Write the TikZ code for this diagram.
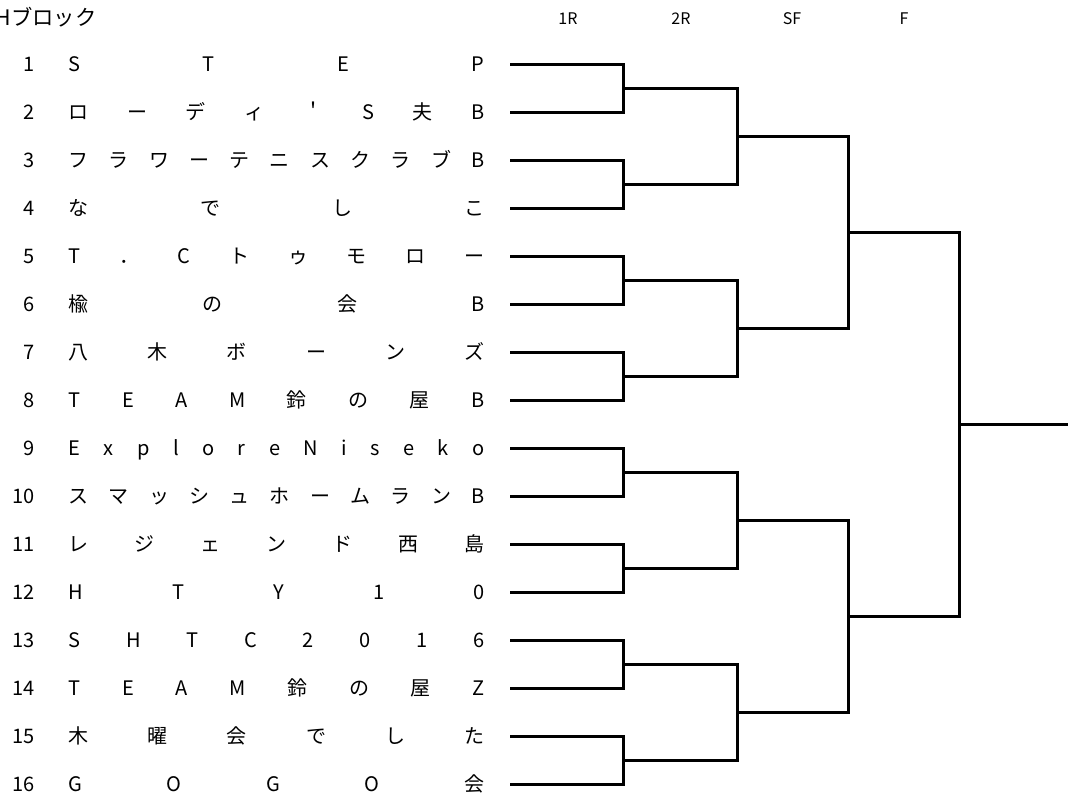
\documentclass[tikz,border=0pt]{standalone}
\usepackage{fontspec}
\setmainfont{Noto Sans CJK JP}
\usetikzlibrary{positioning}

% spread the letters of a team name over the whole column
\newcommand\spreadname[1]{\spreadnext#1\relax}
\def\spreadnext#1#2\relax{#1\if\relax\detokenize{#2}\relax\else\hfill\spreadnext#2\relax\fi}

\begin{document}
\begin{tikzpicture}[x=0.75pt, y=-0.75pt, line width=2.25pt, teamname/.style={anchor=west, inner sep=0pt, text height=11pt, text depth=0pt, font=\fontsize{15}{17}\selectfont}, seednum/.style={teamname, anchor=east}, roundlabel/.style={inner sep=0pt, font=\fontsize{12}{14}\selectfont}, blocktitle/.style={anchor=west, inner sep=0pt, font=\fontsize{16}{19}\selectfont}]
\useasboundingbox (0,0) rectangle (1068,796);
\node[blocktitle] (title) at (-6,17) {Hブロック};
\node[roundlabel] (r1lab) at (568,19) {1R};
\node[roundlabel] (r2lab) at (681,19) {2R};
\node[roundlabel] (sflab) at (792,19) {SF};
\node[roundlabel] (flab) at (904,19) {F};
\foreach \team [count=\i] in {STEP,%
ローディ＇S夫B,%
フラワーテニスクラブB,%
なでしこ,%
T．Cトゥモロー,%
楡の会B,%
八木ボーンズ,%
TEAM鈴の屋B,%
ExploreNiseko,%
スマッシュホームランB,%
レジェンド西島,%
HTY10,%
SHTC2016,%
TEAM鈴の屋Z,%
木曜会でした,%
GOGO会}
{
\node[seednum] (seed\i) at (36,{64+48*(\i-1)}) {\i};
\node[teamname] (team\i) at (67,{64+48*(\i-1)}) {\makebox[312pt]{\expandafter\spreadname\expandafter{\team}}};
\coordinate (e\i) at (510,{64+48*(\i-1)});
}
% match points of each round
\foreach \m in {1,...,8} \coordinate (r\m) at (623.5,{88+96*(\m-1)});
\foreach \m in {1,...,4} \coordinate (q\m) at (737,{136+192*(\m-1)});
\foreach \m in {1,2} \coordinate (s\m) at (848,{232+384*(\m-1)});
\coordinate (fin) at (959.5,424);
\coordinate (champ) at (1068,424);
\foreach \m [evaluate=\m as \a using int(2*\m-1), evaluate=\m as \b using int(2*\m)] in {1,...,8}
  \draw (e\a) -| (r\m) |- (e\b);
\foreach \m [evaluate=\m as \a using int(2*\m-1), evaluate=\m as \b using int(2*\m)] in {1,...,4}
  \draw (r\a) -| (q\m) |- (r\b);
\foreach \m [evaluate=\m as \a using int(2*\m-1), evaluate=\m as \b using int(2*\m)] in {1,2}
  \draw (q\a) -| (s\m) |- (q\b);
\draw (s1) -| (fin) |- (s2);
\draw (fin) -- (champ);
\end{tikzpicture}
\end{document}
